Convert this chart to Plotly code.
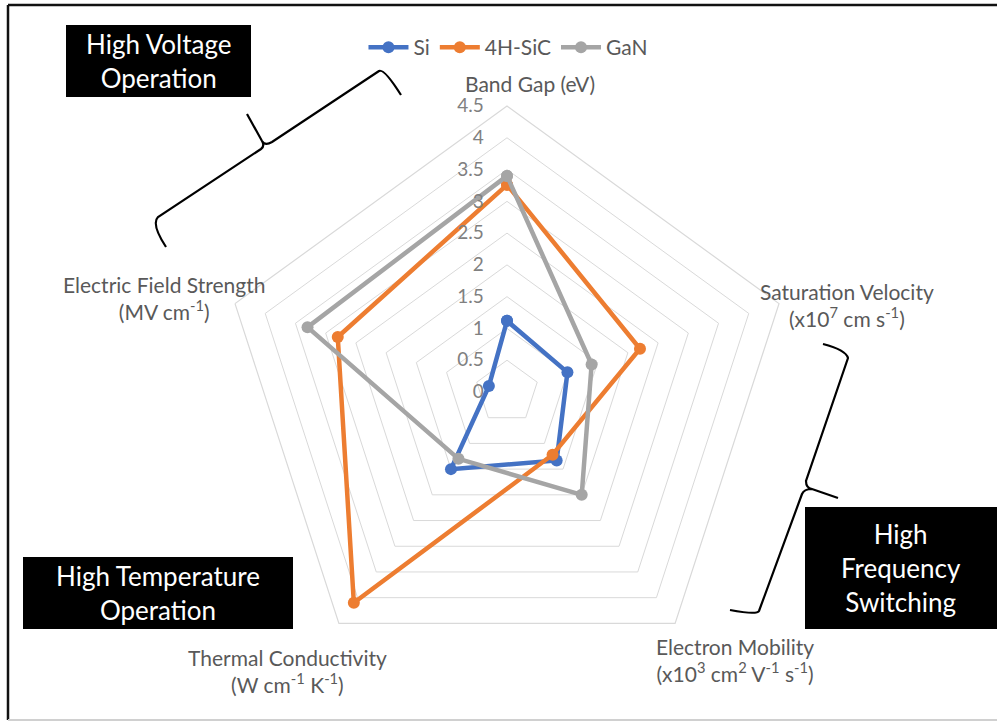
import plotly.graph_objects as go

W, H = 997, 723

categories = ["Band Gap (eV)", "Saturation Velocity (x10<sup>7</sup> cm s<sup>-1</sup>)",
              "Electron Mobility (x10<sup>3</sup> cm<sup>2</sup> V<sup>-1</sup> s<sup>-1</sup>)",
              "Thermal Conductivity (W cm<sup>-1</sup> K<sup>-1</sup>)",
              "Electric Field Strength (MV cm<sup>-1</sup>)"]
category_labels = ["Band Gap (eV)",
                   "Saturation Velocity<br>(x10<sup>7</sup> cm s<sup>-1</sup>)",
                   "Electron Mobility<br>(x10<sup>3</sup> cm<sup>2</sup> V<sup>-1</sup> s<sup>-1</sup>)",
                   "Thermal Conductivity<br>(W cm<sup>-1</sup> K<sup>-1</sup>)",
                   "Electric Field Strength<br>(MV cm<sup>-1</sup>)"]
si = [1.12, 1.0, 1.33, 1.5, 0.3]
sic = [3.26, 2.2, 1.22, 4.1, 2.8]
gan = [3.4, 1.4, 2.0, 1.3, 3.3]
series_names = ["Si", "4H-SiC", "GaN"]
colors = ["#4472C4", "#ED7D31", "#A5A5A5"]
tick_vals = [0, 0.5, 1, 1.5, 2, 2.5, 3, 3.5, 4, 4.5]
tick_text = ["0", "0.5", "1", "1.5", "2", "2.5", "3", "3.5", "4", "4.5"]

FONT = "Lato"

fig = go.Figure()
for name, vals, col in zip(series_names, [si, sic, gan], colors):
    fig.add_trace(go.Scatterpolar(
        r=vals + vals[:1], theta=categories + categories[:1], name=name,
        mode="lines+markers", line=dict(color=col, width=4.5),
        marker=dict(color=col, size=12), cliponaxis=False))

# polar geometry: centre (507, 392), radius 286 px
cx, cy, R = 507, 392, 286
fig.update_layout(
    width=W, height=H,
    margin=dict(l=0, r=0, t=0, b=0, autoexpand=False),
    paper_bgcolor="white", plot_bgcolor="rgba(0,0,0,0)",
    font=dict(family=FONT, color="#595959", size=17),
    polar=dict(
        domain=dict(x=[(cx - R) / W, (cx + R) / W], y=[(H - cy - R) / H, (H - cy + R) / H]),
        gridshape="linear", bgcolor="rgba(0,0,0,0)",
        radialaxis=dict(range=[0, 4.5], tickvals=tick_vals, ticktext=tick_text,
                        angle=90, tickangle=90, showline=False,
                        ticks="outside", ticklen=16, tickcolor="rgba(0,0,0,0)",
                        gridcolor="#D9D9D9", gridwidth=1.2,
                        tickfont=dict(size=19, color="#808080"), side="counterclockwise"),
        angularaxis=dict(rotation=90, direction="clockwise", showgrid=False,
                         showline=True, linecolor="#D9D9D9", linewidth=1.2,
                         showticklabels=False, ticks=""),
    ),
    legend=dict(orientation="h", x=0.51, xanchor="center", y=1 - 27 / H, yanchor="top",
                font=dict(size=21, color="#595959"), itemwidth=40, bgcolor="rgba(0,0,0,0)"),
    xaxis=dict(range=[0, W], visible=False, domain=[0, 1], fixedrange=True),
    yaxis=dict(range=[H, 0], visible=False, domain=[0, 1], fixedrange=True),
)

# category labels
label_pos = [(530, 83), (847, 305), (735, 660), (287, 671), (164, 298)]
for txt, (x, y) in zip(category_labels, label_pos):
    fig.add_annotation(x=x, y=y, xref="x", yref="y", text=txt, showarrow=False,
                       font=dict(size=21, color="#595959", family=FONT), align="center")

# black boxes with white text
boxes = [((66, 25, 251, 97), "High Voltage<br>Operation"),
         ((805, 507, 997, 629), "High<br>Frequency<br>Switching"),
         ((23, 557, 293, 629), "High Temperature<br>Operation")]
for (x0, y0, x1, y1), txt in boxes:
    fig.add_shape(type="rect", x0=x0, y0=y0, x1=x1, y1=y1, xref="x", yref="y",
                  fillcolor="black", line=dict(width=0))
    fig.add_annotation(x=(x0 + x1) / 2, y=(y0 + y1) / 2, xref="x", yref="y", text=txt,
                       showarrow=False, font=dict(size=26, color="white", family=FONT),
                       align="center")

# brackets
brackets = [
    "M 166 247 Q 151 224 158 217 L 261 149 Q 265 146 262 141 L 247 114 "
    "M 262 141 Q 265 146 272 142 L 379 71 Q 384 68 401 95",
    "M 823 344 Q 846 350 848 358 L 806 481 Q 806 488 812 489 L 838 498 "
    "M 812 489 Q 804 489 802 494 L 759 611 Q 757 615 730 610",
]
for p in brackets:
    fig.add_shape(type="path", path=p, xref="x", yref="y", line=dict(color="black", width=2.2))

# frame (paper coordinates)
def px(x):
    return x / W

def py(y):
    return 1 - y / H

fig.add_shape(type="line", x0=px(8), y0=py(5), x1=1, y1=py(5), xref="paper", yref="paper",
              line=dict(color="#111111", width=2.5))
fig.add_shape(type="line", x0=px(8), y0=py(5), x1=px(8), y1=py(720), xref="paper", yref="paper",
              line=dict(color="#111111", width=2.5))
fig.add_shape(type="line", x0=px(8), y0=py(720), x1=1, y1=py(720), xref="paper", yref="paper",
              line=dict(color="#D0D0D0", width=2))

fig.write_html("out.html", config={"displayModeBar": False},
               post_script="document.body.style.margin='0';document.body.style.overflow='hidden';")
